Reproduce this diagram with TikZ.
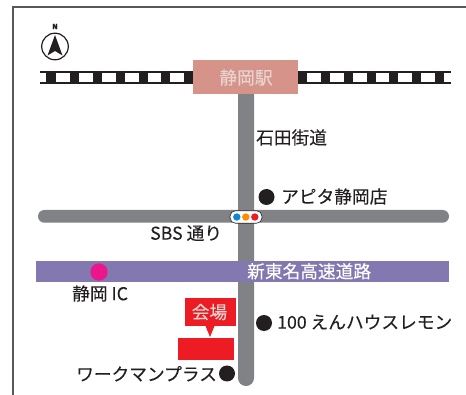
\documentclass[tikz,border=0pt]{standalone}
\usepackage{fontspec}
\setmainfont[FakeBold=0.12]{Noto Sans CJK JP}
\definecolor{roadgray}{HTML}{808285}
\definecolor{inkblack}{HTML}{231F20}
\definecolor{stationpink}{HTML}{D6938A}
\definecolor{highway}{HTML}{8379B0}
\definecolor{venuered}{HTML}{ED1C24}
\definecolor{icpink}{HTML}{EC168C}
\definecolor{paletext}{HTML}{E6D5D0}
\tikzset{
  lbl/.style={text=inkblack,font=\fontsize{17.7}{20}\selectfont,inner sep=0pt,anchor=mid west},
  whitelbl/.style={text=#1,font=\fontsize{17.7}{20}\selectfont,inner sep=0pt},
  spot/.style={circle,fill=inkblack,minimum size=16pt,inner sep=0pt},
  lamp/.style={circle,minimum size=7.4pt,inner sep=0pt},
  sleeper/.style={fill=white,draw=none},
}
\begin{document}
\begin{tikzpicture}[x=1pt,y=-1pt]
\useasboundingbox (0,0) rectangle (466,395);
\fill[white] (0,0) rectangle (466,395);
% frame
\draw[line width=1.2pt,color=inkblack!75] (13,395) -- (13,7) -- (466,7);
% railway
\fill[inkblack] (40,71) rectangle (451,84.3);
\foreach \a/\b in {40/46,56/70,79/93,102/116,125/139,148/161,170/184,307/320.7,330/344,353/367,376/389,398/412,421/435,444/451}
  \fill[sleeper] (\a,73) rectangle (\b,82.5);
% roads
\fill[roadgray,rounded corners=7.9pt] (238,86) rectangle (254,386);
\fill[roadgray,rounded corners=6.3pt] (38,210) rectangle (449,222.7);
% station
\node[fill=stationpink,minimum width=105pt,minimum height=34pt,inner sep=0pt] (station) at (245.5,77) {};
\node[whitelbl=paletext] (stationtext) at (246,77.5) {静岡駅};
% highway
\node[fill=highway,minimum width=412.5pt,minimum height=21pt,inner sep=0pt] (highwaybar) at (242.25,271.5) {};
\node[whitelbl=white,anchor=mid west] (highwaytext) at (247,275.3) {新東名高速道路};
\node[circle,fill=icpink,minimum size=17.4pt,inner sep=0pt] (ic) at (99,272) {};
% signal
\node[draw=inkblack,fill=white,line width=.6pt,rounded corners=5.5pt,minimum width=32pt,minimum height=12.5pt,inner sep=0pt] (signal) at (246,217) {};
\node[lamp,fill=cyan!70!blue] (l1) at (236.8,217) {};
\node[lamp,fill=orange!90!yellow] (l2) at (245.8,217) {};
\node[lamp,fill=venuered] (l3) at (254.8,217) {};
% venue
\fill[venuered] (177.5,338) rectangle (234,360);
\node[fill=venuered,minimum width=51pt,minimum height=28pt,inner sep=0pt] (venue) at (210,312) {};
\fill[venuered] (205.5,326) -- (214.5,326) -- (210,337) -- cycle;
\node[whitelbl=paletext] (venuetext) at (209.5,312) {会場};
% spots
\node[spot] (apita) at (266.5,197) {};
\node[spot] (lemon) at (264,323) {};
\node[spot] (workman) at (227,373.5) {};
% labels
\node[lbl] (ishida) at (256,141.5) {石田街道};
\node[lbl] (apitatext) at (281,200.5) {アピタ静岡店};
\node[lbl] (sbs) at (150,237) {SBS 通り};
\node[lbl] (ictext) at (72,297.5) {静岡 IC};
\node[lbl] (lemontext) at (277,326) {100 えんハウスレモン};
\node[lbl] (workmantext) at (76,378) {ワークマンプラス};
% north mark
\node[font=\fontsize{7}{8}\selectfont\bfseries,text=inkblack,inner sep=0pt] (north) at (55,26.5) {N};
\draw[inkblack,line width=1.2pt,fill=white] (55,46.5) circle (13.3);
\fill[inkblack] (55,35) -- (62.5,55.5) -- (55,51) -- (47.5,55.5) -- cycle;
\end{tikzpicture}
\end{document}
